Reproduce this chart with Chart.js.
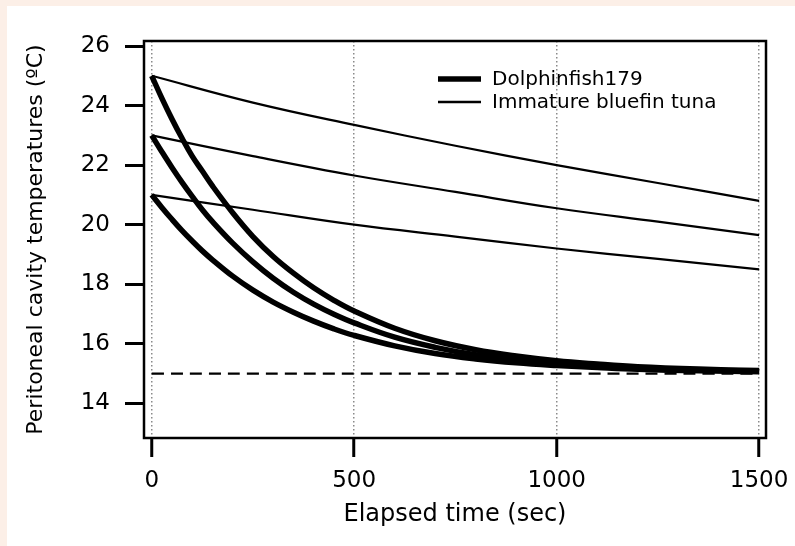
<!DOCTYPE html>
<html>
<head>
<meta charset="utf-8">
<script src="https://cdn.jsdelivr.net/npm/chart.js@4.4.1/dist/chart.umd.min.js"></script>
<style>
  html, body { margin: 0; padding: 0; background: #fcefe7; width: 795px; height: 546px; overflow: hidden; }
  #wrap { position: absolute; left: 7px; top: 6px; width: 788px; height: 540px; background: #ffffff; }
  canvas { display: block; }
</style>
</head>
<body>
<div id="wrap"><canvas id="c" width="788" height="540"></canvas></div>
<script>
// ---- data ----
const dolphinTimes = [0, 25, 50, 75, 100, 125, 150, 200, 250, 300, 350, 400, 450, 500, 600, 700, 800, 900, 1000, 1100, 1200, 1350, 1500];
const dolphin25 = [25, 24.25, 23.55, 22.9, 22.3, 21.8, 21.3, 20.4, 19.6, 18.93, 18.37, 17.88, 17.46, 17.1, 16.52, 16.1, 15.8, 15.59, 15.43, 15.32, 15.23, 15.15, 15.1];
const dolphin23 = [23, 22.45, 21.92, 21.42, 20.95, 20.5, 20.1, 19.38, 18.75, 18.2, 17.73, 17.33, 16.99, 16.7, 16.22, 15.88, 15.63, 15.46, 15.34, 15.25, 15.18, 15.12, 15.08];
const dolphin21 = [21, 20.58, 20.18, 19.8, 19.45, 19.12, 18.82, 18.27, 17.8, 17.4, 17.06, 16.76, 16.5, 16.28, 15.93, 15.67, 15.49, 15.36, 15.27, 15.2, 15.14, 15.09, 15.06];

const tunaTimes = [0, 250, 500, 750, 1000, 1250, 1500];
const tuna25 = [25, 24.1, 23.35, 22.65, 22.0, 21.4, 20.8];
const tuna23 = [23, 22.3, 21.65, 21.1, 20.55, 20.1, 19.65];
const tuna21 = [21, 20.5, 20.0, 19.6, 19.2, 18.85, 18.5];

const ambientTimes = [0, 1500];
const ambientTemp = [15, 15];

const xTickValues = [0, 500, 1000, 1500];
const yTickValues = [14, 16, 18, 20, 22, 24, 26];

const legendLabels = ['Dolphinfish179', 'Immature bluefin tuna'];
const xTitle = 'Elapsed time (sec)';
const yTitle = 'Peritoneal cavity temperatures (ºC)';

// ---- build ----
const pts = (xs, ys) => xs.map((x, i) => ({ x: x, y: ys[i] }));
const FONT = "'DejaVu Sans', sans-serif";

function ds(label, xs, ys, width, dash) {
  return {
    label: label,
    data: pts(xs, ys),
    borderColor: '#000',
    backgroundColor: '#000',
    borderWidth: width,
    borderDash: dash || [],
    pointRadius: 0,
    tension: 0.4,
    fill: false
  };
}

const datasets = [
  ds('Immature bluefin tuna 25', tunaTimes, tuna25, 2.2),
  ds('Immature bluefin tuna 23', tunaTimes, tuna23, 2.2),
  ds('Immature bluefin tuna 21', tunaTimes, tuna21, 2.2),
  ds('Dolphinfish179 25', dolphinTimes, dolphin25, 5.5),
  ds('Dolphinfish179 23', dolphinTimes, dolphin23, 5.5),
  ds('Dolphinfish179 21', dolphinTimes, dolphin21, 5.5),
  ds('Ambient', ambientTimes, ambientTemp, 2.2, [12, 7])
];

const framePlugin = {
  id: 'frame',
  afterDatasetsDraw(chart) {
    const { ctx, chartArea: a } = chart;
    ctx.save();
    ctx.strokeStyle = '#000';
    ctx.lineWidth = 2.5;
    ctx.strokeRect(a.left, a.top, a.right - a.left, a.bottom - a.top);
    ctx.restore();
  }
};

const legendPlugin = {
  id: 'customLegend',
  afterDatasetsDraw(chart) {
    const ctx = chart.ctx;
    const items = [
      { text: legendLabels[0], w: 5.5, y: 73 },
      { text: legendLabels[1], w: 2.5, y: 96 }
    ];
    ctx.save();
    ctx.font = "20px " + FONT;
    ctx.fillStyle = '#000';
    ctx.textBaseline = 'middle';
    ctx.textAlign = 'left';
    items.forEach(it => {
      ctx.strokeStyle = '#000';
      ctx.lineWidth = it.w;
      ctx.beginPath();
      ctx.moveTo(431, it.y);
      ctx.lineTo(474, it.y);
      ctx.stroke();
      ctx.fillText(it.text, 485, it.y + 1);
    });
    ctx.restore();
  }
};

new Chart(document.getElementById('c'), {
  type: 'line',
  data: { datasets: datasets },
  options: {
    responsive: false,
    animation: false,
    devicePixelRatio: 1,
    layout: { padding: { top: 35, right: 29, left: 0, bottom: 0 } },
    plugins: { legend: { display: false }, tooltip: { enabled: false } },
    scales: {
      x: {
        type: 'linear',
        min: -19,
        max: 1517,
        afterFit(s) { s.height = 108; s.paddingLeft = 0; s.paddingRight = 0; },
        afterBuildTicks(s) { s.ticks = xTickValues.map(v => ({ value: v })); },
        grid: {
          display: true,
          drawOnChartArea: true,
          drawTicks: true,
          color: '#8a8a8a',
          lineWidth: 1.5,
          tickLength: 19,
          tickColor: '#000',
          tickWidth: 3
        },
        border: { display: false, dash: [1.5, 2.5] },
        ticks: {
          color: '#000',
          font: { family: FONT, size: 23 },
          padding: 10,
          maxRotation: 0,
          autoSkip: false,
          callback: v => String(v)
        },
        title: {
          display: true,
          text: xTitle,
          color: '#000',
          font: { family: FONT, size: 24 },
          padding: { top: 0, bottom: 17 }
        }
      },
      y: {
        type: 'linear',
        min: 12.835,
        max: 26.168,
        afterFit(s) { s.width = 137; s.paddingTop = 0; s.paddingBottom = 0; },
        afterBuildTicks(s) { s.ticks = yTickValues.map(v => ({ value: v })); },
        grid: {
          display: true,
          drawOnChartArea: false,
          drawTicks: true,
          tickLength: 19,
          tickColor: '#000',
          tickWidth: 3
        },
        border: { display: false },
        ticks: {
          color: '#000',
          font: { family: FONT, size: 23 },
          padding: 15,
          callback: v => String(v)
        },
        title: {
          display: true,
          text: yTitle,
          color: '#000',
          font: { family: FONT, size: 22 },
          padding: { top: 16, bottom: 0 }
        }
      }
    }
  },
  plugins: [framePlugin, legendPlugin]
});
</script>
</body>
</html>
